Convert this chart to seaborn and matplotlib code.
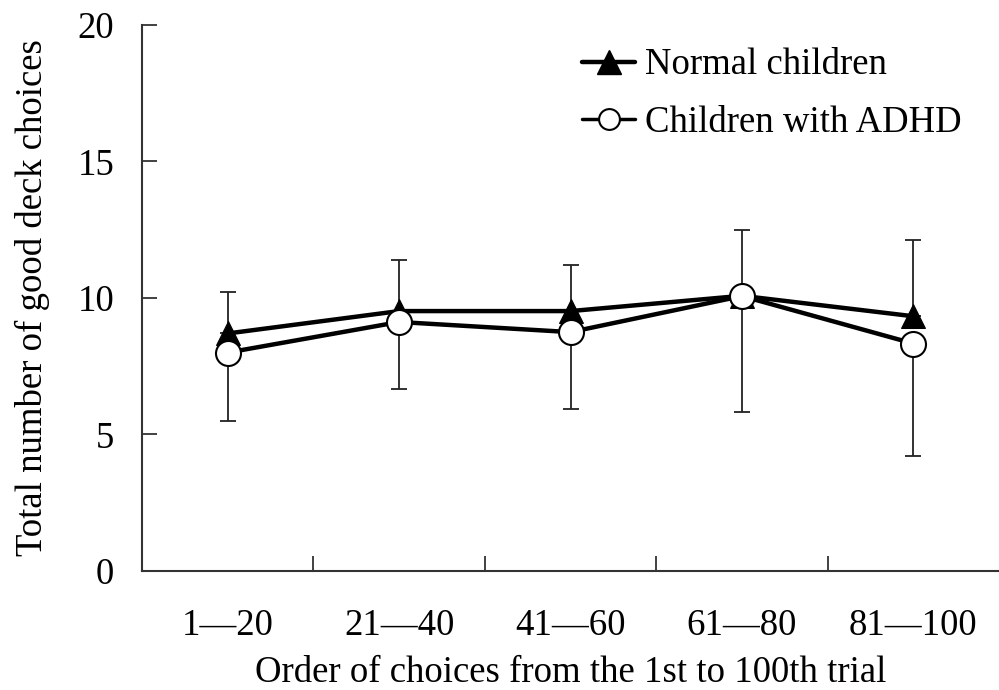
import numpy as np
import pandas as pd
import matplotlib
matplotlib.use("Agg")
import matplotlib.pyplot as plt
import seaborn as sns
from matplotlib.lines import Line2D

categories = ["1\u201420", "21\u201440", "41\u201460", "61\u201480", "81\u2014100"]
normal_mean = [8.7, 9.52, 9.52, 10.08, 9.33]
adhd_mean = [8.0, 9.12, 8.75, 10.07, 8.33]
normal_sd = [1.52, 1.88, 1.7, 2.41, 2.78]
adhd_sd = [2.5, 2.44, 2.82, 4.23, 4.12]
series_names = ["Normal children", "Children with ADHD"]

sns.set_theme(style="ticks")
plt.rcParams["font.family"] = ["Liberation Serif", "DejaVu Serif"]
plt.rcParams["text.color"] = "black"
plt.rcParams["axes.labelcolor"] = "black"
plt.rcParams["xtick.labelcolor"] = "black"
plt.rcParams["ytick.labelcolor"] = "black"

fig = plt.figure(figsize=(9.99, 6.9), dpi=100)
ax = fig.add_axes([0.1421, 0.1725, 0.858, 0.7913])

xpos = np.arange(len(categories))
df = pd.DataFrame({
    "x": np.concatenate([xpos, xpos]),
    "y": normal_mean + adhd_mean,
    "group": [series_names[0]] * len(xpos) + [series_names[1]] * len(xpos),
})

# error bars (Normal: upward, ADHD: downward)
ax.errorbar(xpos, normal_mean, yerr=[np.zeros(len(xpos)), normal_sd], fmt="none",
            ecolor="#222222", elinewidth=1.3, capsize=6, capthick=1.3, zorder=1)
ax.errorbar(xpos, adhd_mean, yerr=[adhd_sd, np.zeros(len(xpos))], fmt="none",
            ecolor="#222222", elinewidth=1.3, capsize=6, capthick=1.3, zorder=1)

sns.lineplot(data=df[df.group == series_names[0]], x="x", y="y", ax=ax,
             color="black", lw=3.2, marker="^", markersize=17,
             markerfacecolor="black", markeredgecolor="black", zorder=3, legend=False)
sns.lineplot(data=df[df.group == series_names[1]], x="x", y="y", ax=ax,
             color="black", lw=3.2, marker="o", markersize=18,
             markerfacecolor="white", markeredgecolor="black", markeredgewidth=1.5,
             zorder=4, legend=False)

ax.set_xlim(-0.5, 4.5)
ax.set_ylim(0, 20)
ax.set_yticks([0, 5, 10, 15, 20])
ax.set_xticks(xpos)
ax.set_xticklabels(categories)
ax.set_xticks([0.5, 1.5, 2.5, 3.5], minor=True)
ax.tick_params(axis="x", which="major", length=0, pad=27, labelsize=26.5)
ax.tick_params(axis="x", which="minor", direction="in", length=11, width=1.3, color="#333333")
ax.tick_params(axis="y", direction="in", length=11, width=1.3, color="#333333", pad=20, labelsize=26.5)

for s in ["top", "right"]:
    ax.spines[s].set_visible(False)
for s in ["left", "bottom"]:
    ax.spines[s].set_linewidth(1.5)
    ax.spines[s].set_color("#333333")

ax.set_xlabel("Order of choices from the 1st to 100th trial", fontsize=26.5, labelpad=9)
ax.set_ylabel("Total number of good deck choices", fontsize=26.5, labelpad=20)

handles = [
    Line2D([], [], color="black", lw=3.2, marker="^", markersize=17, markerfacecolor="black"),
    Line2D([], [], color="black", lw=2.5, marker="o", markersize=15, markerfacecolor="white",
           markeredgewidth=1.5),
]
fig.legend(handles, series_names, loc="upper left", bbox_to_anchor=(582 / 999, 1 - 48 / 690),
           frameon=False, fontsize=26.5, handlelength=1.45, handletextpad=0.25,
           borderpad=0, borderaxespad=0, labelspacing=0.62)

fig.savefig("out.png", dpi=100)
